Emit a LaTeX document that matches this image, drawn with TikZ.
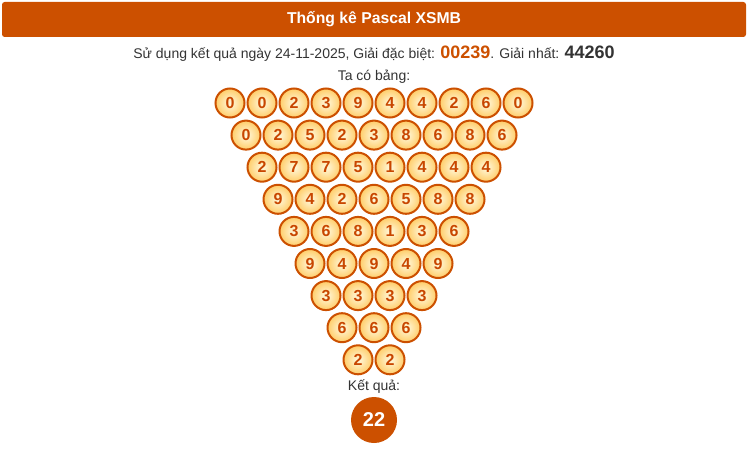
\documentclass[tikz,border=0pt]{standalone}
\usepackage{fontspec}
\setmainfont{Liberation Sans}
\usepackage{tikz}
\usetikzlibrary{positioning}
\usepackage{xcolor}
\definecolor{xsorange}{RGB}{204,80,0}
\definecolor{xsdigit}{RGB}{200,70,0}
\definecolor{xstext}{RGB}{51,51,51}
\definecolor{xsinner}{RGB}{255,250,225}
\definecolor{xsouter}{RGB}{255,205,105}
\tikzstyle{ball} = [circle, minimum size=21.75pt, draw=xsorange, line width=1.5pt, shading=radial, inner color=xsinner, outer color=xsouter, text=xsdigit, font=\bfseries\fontsize{12}{12}\selectfont, inner sep=0pt]
\tikzstyle{result} = [circle, minimum size=34.5pt, fill=xsorange, text=white, font=\bfseries\fontsize{15}{15}\selectfont, inner sep=0pt]
\tikzstyle{caption} = [text=xstext, font=\fontsize{10.5}{12}\selectfont, inner sep=0pt]

\begin{document}
\begin{tikzpicture}[x=0.75pt, y=-0.75pt]
\useasboundingbox (0,0) rectangle (748,452);
% header bar
\fill[xsorange, rounded corners=2pt] (2,2) rectangle (746,37);
\node (title) at (374,19) [text=white, font=\bfseries\fontsize{11.8}{13}\selectfont] {Thống kê Pascal XSMB};

% source line
\node (source) at (374,54) [caption] {Sử dụng kết quả ngày 24-11-2025, Giải đặc biệt: {\color{xsorange}\bfseries\fontsize{13.5}{14}\selectfont 00239}. Giải nhất: {\bfseries\fontsize{13.5}{14}\selectfont 44260}};
\node (table) at (374,77) [caption] {Ta có bảng:};

% pascal triangle
\foreach \row [count=\r] in {{0,0,2,3,9,4,4,2,6,0},{0,2,5,2,3,8,6,8,6},{2,7,7,5,1,4,4,4},{9,4,2,6,5,8,8},{3,6,8,1,3,6},{9,4,9,4,9},{3,3,3,3},{6,6,6},{2,2}} {
  \foreach \d [count=\c] in \row {
    \pgfmathsetmacro{\px}{374+(\c-(12-\r)/2)*32}
    \pgfmathsetmacro{\py}{103+(\r-1)*32.1}
    \node (b\r-\c) at (\px,\py) [ball] {\d};
  }
}

% result
\node (resultlabel) at (374,387) [caption] {Kết quả:};
\node (final) at (374,420) [result] {22};
\end{tikzpicture}
\end{document}
